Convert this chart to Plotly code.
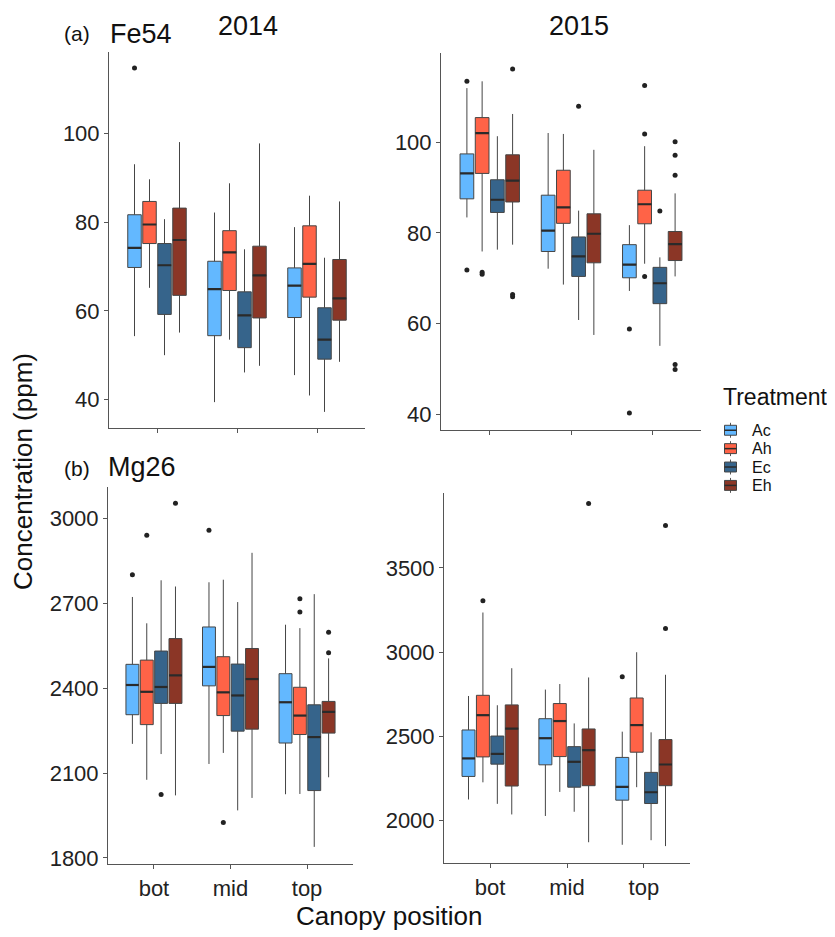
import plotly.graph_objects as go

# page body adds an 8px margin; work in window pixels and convert
OFF = 8
W, H = 835 - OFF, 937 - OFF
def px(x): return (x - OFF) / W
def py(y): return 1 - (y - OFF) / H

treatments = ["Ac", "Ah", "Ec", "Eh"]
colors = {"Ac": "#63B8FF", "Ah": "#FF6347", "Ec": "#36648B", "Eh": "#8B3626"}
positions = ["bot", "mid", "top"]

# ---- Fe54 2014 ----
fe14_low = {"Ac": [54.3, 39.4, 45.5], "Ah": [65.2, 53.5, 40.9], "Ec": [50.0, 46.1, 37.2], "Eh": [55.1, 47.6, 48.5]}
fe14_q1  = {"Ac": [69.8, 54.4, 58.5], "Ah": [75.2, 64.6, 63.1], "Ec": [59.2, 51.7, 49.1], "Eh": [63.5, 58.4, 57.9]}
fe14_med = {"Ac": [74.2, 64.9, 65.7], "Ah": [79.5, 73.2, 70.6], "Ec": [70.3, 59.0, 53.5], "Eh": [76.0, 68.0, 62.8]}
fe14_q3  = {"Ac": [81.7, 71.2, 69.7], "Ah": [84.7, 78.1, 79.2], "Ec": [75.2, 64.3, 60.7], "Eh": [83.2, 74.6, 71.6]}
fe14_up  = {"Ac": [93.1, 82.2, 78.9], "Ah": [89.7, 88.8, 86.0], "Ec": [80.7, 73.9, 72.0], "Eh": [98.1, 97.8, 84.7]}
fe14_out = {"Ac": [[114.8], [], []], "Ah": [[], [], []], "Ec": [[], [], []], "Eh": [[], [], []]}

# ---- Fe54 2015 ----
fe15_low = {"Ac": [83.4, 72.1, 67.2], "Ah": [75.9, 68.6, 73.2], "Ec": [76.3, 60.8, 55.1], "Eh": [77.4, 57.5, 70.4]}
fe15_q1  = {"Ac": [87.5, 75.9, 70.1], "Ah": [93.1, 82.1, 82.0], "Ec": [84.5, 70.4, 64.4], "Eh": [86.8, 73.4, 73.9]}
fe15_med = {"Ac": [93.1, 80.5, 73.0], "Ah": [102.0, 85.6, 86.3], "Ec": [87.3, 74.8, 68.9], "Eh": [91.5, 79.8, 77.5]}
fe15_q3  = {"Ac": [97.4, 88.3, 77.4], "Ah": [105.4, 93.8, 89.4], "Ec": [91.7, 79.1, 72.4], "Eh": [97.2, 84.2, 80.3]}
fe15_up  = {"Ac": [111.9, 102.0, 81.7], "Ah": [113.4, 101.8, 99.1], "Ec": [101.3, 84.9, 74.6], "Eh": [106.2, 98.3, 88.7]}
fe15_out = {"Ac": [[113.4, 71.8], [], [58.8, 40.3]],
            "Ah": [[71.3, 70.9], [], [112.5, 101.8, 70.4]],
            "Ec": [[], [107.9], [84.8]],
            "Eh": [[116.1, 66.4, 65.9], [], [100.1, 97.1, 92.7, 51.0, 49.9]]}

# ---- Mg26 2014 ----
mg14_low = {"Ac": [2203, 2132, 2025], "Ah": [2076, 2171, 2026], "Ec": [2167, 1968, 1839], "Eh": [2021, 2012, 2085]}
mg14_q1  = {"Ac": [2306, 2408, 2206], "Ah": [2271, 2303, 2236], "Ec": [2346, 2248, 2038], "Eh": [2346, 2255, 2241]}
mg14_med = {"Ac": [2411, 2475, 2350], "Ah": [2387, 2385, 2303], "Ec": [2404, 2374, 2227], "Eh": [2445, 2432, 2316]}
mg14_q3  = {"Ac": [2484, 2616, 2451], "Ah": [2499, 2511, 2403], "Ec": [2531, 2485, 2341], "Eh": [2575, 2540, 2353]}
mg14_up  = {"Ac": [2722, 2774, 2624], "Ah": [2629, 2783, 2612], "Ec": [2781, 2704, 2732], "Eh": [2759, 2878, 2505]}
mg14_out = {"Ac": [[2801], [2958], []],
            "Ah": [[2940], [1925], [2716, 2669]],
            "Ec": [[2024], [], []],
            "Eh": [[3053], [], [2525, 2597]]}

# ---- Mg26 2015 ----
mg15_low = {"Ac": [2124, 2026, 1855], "Ah": [2226, 2169, 2197], "Ec": [2098, 2051, 1882], "Eh": [2035, 1870, 1847]}
mg15_q1  = {"Ac": [2261, 2330, 2120], "Ah": [2377, 2379, 2405], "Ec": [2334, 2197, 2100], "Eh": [2204, 2206, 2206]}
mg15_med = {"Ac": [2368, 2488, 2199], "Ah": [2625, 2590, 2566], "Ec": [2395, 2348, 2167], "Eh": [2545, 2417, 2332]}
mg15_q3  = {"Ac": [2537, 2604, 2374], "Ah": [2743, 2694, 2727], "Ec": [2501, 2438, 2285], "Eh": [2686, 2543, 2480]}
mg15_up  = {"Ac": [2739, 2777, 2527], "Ah": [3235, 2810, 2999], "Ec": [2684, 2576, 2523], "Eh": [2904, 2849, 2865]}
mg15_out = {"Ac": [[], [], [2853]],
            "Ah": [[3305], [], []],
            "Ec": [[], [], []],
            "Eh": [[], [3883], [3752, 3140]]}

fe_ticks = [40, 60, 80, 100]
mg14_ticks = [1800, 2100, 2400, 2700, 3000]
mg15_ticks = [2000, 2500, 3000, 3500]

panels = [
    dict(xa="x", ya="y", low=fe14_low, q1=fe14_q1, med=fe14_med, q3=fe14_q3, up=fe14_up, out=fe14_out,
         xdom=[109, 365], ydom=[52, 431], yr=[33.5, 118.5], ticks=fe_ticks, labels=False),
    dict(xa="x2", ya="y2", low=fe15_low, q1=fe15_q1, med=fe15_med, q3=fe15_q3, up=fe15_up, out=fe15_out,
         xdom=[441, 701], ydom=[53, 433], yr=[36.5, 119.7], ticks=fe_ticks, labels=False),
    dict(xa="x3", ya="y3", low=mg14_low, q1=mg14_q1, med=mg14_med, q3=mg14_q3, up=mg14_up, out=mg14_out,
         xdom=[108, 353], ydom=[490, 870], yr=[1777, 3111], ticks=mg14_ticks, labels=True),
    dict(xa="x4", ya="y4", low=mg15_low, q1=mg15_q1, med=mg15_med, q3=mg15_q3, up=mg15_up, out=mg15_out,
         xdom=[444, 690], ydom=[496, 869], yr=[1744, 3946], ticks=mg15_ticks, labels=True),
]

dodge = 0.75
slot = dodge / len(treatments)
bw = slot * 0.9
offsets = {t: -dodge / 2 + slot * (i + 0.5) for i, t in enumerate(treatments)}

fig = go.Figure()
FONT = "Liberation Sans, Arial, Helvetica, sans-serif"

for pi, p in enumerate(panels):
    for t in treatments:
        xs = [i + offsets[t] for i in range(len(positions))]
        fig.add_trace(go.Box(
            x=xs, q1=p["q1"][t], median=p["med"][t], q3=p["q3"][t],
            lowerfence=p["low"][t], upperfence=p["up"][t],
            width=bw, whiskerwidth=0, boxpoints=False,
            fillcolor=colors[t], line=dict(color="#454545", width=1),
            name=t, showlegend=False, xaxis=p["xa"], yaxis=p["ya"], hoverinfo="skip"))
        # thicker median
        mx, my = [], []
        for i, x in enumerate(xs):
            mx += [x - bw / 2, x + bw / 2, None]
            my += [p["med"][t][i]] * 2 + [None]
        fig.add_trace(go.Scatter(x=mx, y=my, mode="lines", line=dict(color="#2a2a2a", width=2.2),
                                 showlegend=False, xaxis=p["xa"], yaxis=p["ya"], hoverinfo="skip"))
        ox, oy = [], []
        for i, x in enumerate(xs):
            for v in p["out"][t][i]:
                ox.append(x)
                oy.append(v)
        if ox:
            fig.add_trace(go.Scatter(x=ox, y=oy, mode="markers",
                                     marker=dict(color="#222222", size=5),
                                     showlegend=False, xaxis=p["xa"], yaxis=p["ya"], hoverinfo="skip"))

axis_common = dict(showline=True, linecolor="#555555", linewidth=1, ticks="outside", ticklen=4,
                   tickcolor="#555555", showgrid=False, zeroline=False,
                   tickfont=dict(family=FONT, size=22, color="#222222"))
layout = {}
for pi, p in enumerate(panels):
    k = "" if pi == 0 else str(pi + 1)
    layout["xaxis" + k] = dict(axis_common, domain=[px(p["xdom"][0]), px(p["xdom"][1])],
                               range=[-0.6, 2.6], tickvals=[0, 1, 2], ticktext=positions,
                               showticklabels=p["labels"], anchor="y" + k)
    layout["yaxis" + k] = dict(axis_common, domain=[py(p["ydom"][1]), py(p["ydom"][0])],
                               range=p["yr"], tickvals=p["ticks"], anchor="x" + k)

ann = []
def txt(s, x, y, size, xanchor="center", angle=0):
    ann.append(dict(text=s, x=px(x), y=py(y), xref="paper", yref="paper", showarrow=False,
                    xanchor=xanchor, yanchor="middle", textangle=angle,
                    font=dict(family=FONT, size=size, color="#111111")))

txt("(a)", 62, 34, 21, "left")
txt("Fe54", 108, 34, 27, "left")
txt("2014", 248, 26, 27)
txt("2015", 579, 26, 27)
txt("(b)", 62, 471, 21, "left")
txt("Mg26", 106, 470, 27, "left")
txt("Concentration (ppm)", 23, 475, 26, angle=-90)
txt("Canopy position", 389, 922, 26)
txt("Treatment", 721, 400, 23, "left")

shapes = []
key_y = [433, 451.5, 470, 488.5]
for t, ky in zip(treatments, key_y):
    shapes.append(dict(type="line", xref="paper", yref="paper", x0=px(730.5), x1=px(730.5),
                       y0=py(ky - 7.5), y1=py(ky + 7.5), line=dict(color="#555555", width=1)))
    shapes.append(dict(type="rect", xref="paper", yref="paper", x0=px(724.5), x1=px(736.5),
                       y0=py(ky - 5), y1=py(ky + 5), fillcolor=colors[t],
                       line=dict(color="#454545", width=1)))
    shapes.append(dict(type="line", xref="paper", yref="paper", x0=px(724.5), x1=px(736.5),
                       y0=py(ky), y1=py(ky), line=dict(color="#2a2a2a", width=1.5)))
    txt(t, 750, ky, 16, "left")

fig.update_layout(**layout)
fig.update_layout(width=W, height=H, margin=dict(l=0, r=0, t=0, b=0),
                  paper_bgcolor="white", plot_bgcolor="white", boxmode="overlay",
                  annotations=ann, shapes=shapes, showlegend=False,
                  font=dict(family=FONT))
fig.write_html("out.html")
